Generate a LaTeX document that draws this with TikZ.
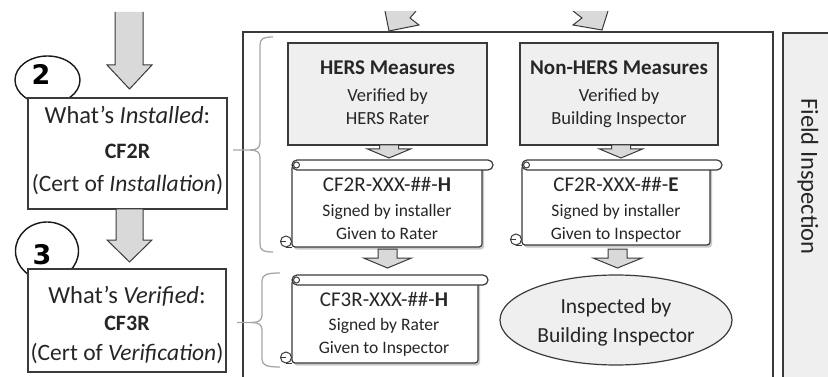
\documentclass[tikz,border=0pt]{standalone}
\usepackage{fontspec}
\setmainfont{Carlito}
\newfontfamily\numfont{DejaVu Sans}
\usetikzlibrary{shadows,shapes.geometric}
\definecolor{dk}{HTML}{3A3A3A}
\definecolor{lg}{HTML}{EFEFEF}
\definecolor{ag}{HTML}{D9D9D9}
\definecolor{br}{HTML}{A6A6A6}
\newcommand{\fsz}[1]{\fontsize{#1}{#1}\selectfont}
% block arrow: cx, ytop, half shaft, half head, ybase, ytip
\newcommand{\blkarrow}[6]{%
  \filldraw[blk] (#1-#3,#2) -- (#1-#3,#5) -- (#1-#4,#5) -- (#1,#6) -- (#1+#4,#5) -- (#1+#3,#5) -- (#1+#3,#2) -- cycle;}
% scroll: x0 (body left), y0 (bar top), x1 (bar right), xb (body right), y1 (bottom)
\newcommand{\scrollshape}[5]{%
  \draw[box, rounded corners=3pt, drop shadow={shadow xshift=2pt, shadow yshift=-2.5pt, opacity=.35, fill=black!60}] (#1,#2+5) -- (#1,#5) -- (#4,#5) -- (#4,#2+5) -- cycle;
  \draw[box, rounded corners=5pt] (#1,#2) rectangle (#3,#2+10);
  \draw[dk, line width=1pt] (#1+4.5,#2+5) circle (3);
  \draw[box, line width=1pt] (#1-6,#5-5.5) circle (5.5);
  \draw[dk, line width=1pt] (#1-11.5,#5-5.5) -- (#1-6,#5-5.5) (#1-6,#5) -- (#1,#5);}
\begin{document}
\begin{tikzpicture}[x=1pt,y=-1pt,
  box/.style={draw=dk, line width=1.2pt, fill=white},
  gbox/.style={draw=dk, line width=1.2pt, fill=lg},
  blk/.style={draw=dk, line width=1pt, fill=ag, line join=miter},
  brc/.style={draw=br, line width=1.3pt},
  txt/.style={anchor=base, inner sep=0pt, text=black!85},
  num/.style={inner sep=0pt, font=\numfont\bfseries\fsz{27}},
  circ/.style={draw=black!90, line width=1.4pt, fill=white, ellipse},
]
\useasboundingbox (0,0) rectangle (828,377);

% ---------- left column ----------
\fill[ag] (115,12) -- (115,65) -- (107,65) -- (129.5,89) -- (152,65) -- (143,65) -- (143,12) -- cycle;
\draw[dk, line width=1pt] (115,12) -- (115,65) -- (107,65) -- (129.5,89) -- (152,65) -- (143,65) -- (143,12);

\node[circ, minimum width=65pt, minimum height=48pt] (c2) at (47.5,80) {};
\node[box, minimum width=199pt, minimum height=111pt] (b2) at (127.5,153.5) {};
\node[num] (n2) at (41,74) {2};
\node[txt] (t2a) at (127.5,124) {\fsz{24.5}What’s \textit{Installed}:};
\node[txt] (t2b) at (127.5,159) {\fsz{22}\bfseries CF2R};
\node[txt] (t2c) at (127.5,192) {\fsz{23.5}(Cert of \textit{Installation})};

\blkarrow{129.5}{209}{13.5}{22.5}{240}{262}

\node[circ, minimum width=63pt, minimum height=58pt] (c3) at (47,251) {};
\node[box, minimum width=198pt, minimum height=103pt] (b3) at (127,320.5) {};
\node[num] (n3) at (42,255) {3};
\node[txt] (t3a) at (127,303) {\fsz{24.5}What’s \textit{Verified}:};
\node[txt] (t3b) at (127,330) {\fsz{22}\bfseries CF3R};
\node[txt] (t3c) at (127,360) {\fsz{23.5}(Cert of \textit{Verification})};

% ---------- main frame ----------
\draw[dk, line width=1.3pt] (243,377) -- (243,32) -- (773,32) -- (773,377);
\fill[lg] (783,33) rectangle (830,377);
\draw[dk, line width=1.3pt] (783,377) -- (783,33) -- (830,33);
\node[rotate=-90, text=black!85] (fi) at (808,176.5) {\fsz{24.5}Field Inspection};

% cut arrow heads at top
\filldraw[blk] (385,11) -- (389,31) -- (419,25) -- (410,18) -- (416,11);
\filldraw[blk] (573,11) -- (582,18) -- (573,25) -- (602,30) -- (608,11);
\fill[white] (370,0) rectangle (620,11);

% braces
\draw[brc] (273,37) .. controls (263,37) and (260,39) .. (260,45) -- (260,142) .. controls (260,148) and (257,150) .. (250,150) -- (233,150);
\draw[brc] (250,150) .. controls (257,150) and (260,152) .. (260,158) -- (260,244) .. controls (260,250) and (263,252) .. (273,252);
\draw[brc] (280,273) .. controls (266,273) and (262,275) .. (262,281) -- (262,315) .. controls (262,320) and (259,322.5) .. (252,322.5) -- (237,322.5);
\draw[brc] (252,322.5) .. controls (259,322.5) and (262,325) .. (262,330) -- (262,359) .. controls (262,365) and (266,367) .. (280,367);

% HERS / Non-HERS boxes
\node[gbox, minimum width=199pt, minimum height=102pt] (hers) at (387.5,94) {};
\node[txt] at (387.5,75) {\fsz{21}\bfseries HERS Measures};
\node[txt] at (387.5,102) {\fsz{18.5}Verified by};
\node[txt] at (387.5,125) {\fsz{18.5}HERS Rater};

\node[gbox, minimum width=198pt, minimum height=102pt] (nhers) at (619,94) {};
\node[txt] at (619,75) {\fsz{21}\bfseries Non-HERS Measures};
\node[txt] at (619,102) {\fsz{18.5}Verified by};
\node[txt] at (619,125) {\fsz{18.5}Building Inspector};

\blkarrow{389}{145}{9.5}{21.5}{149}{158}
\blkarrow{621}{145}{9.5}{21.5}{149}{158}

% scrolls
\scrollshape{292}{160}{493}{482}{247}
\node[txt] at (387,192) {\fsz{21}CF2R-XXX-\#\#-\textbf{H}};
\node[txt] at (387,217) {\fsz{17.5}Signed by installer};
\node[txt] at (387,240) {\fsz{17.5}Given to Rater};

\scrollshape{522}{160}{722}{710}{245}
\node[txt] at (616,192) {\fsz{21}CF2R-XXX-\#\#-\textbf{E}};
\node[txt] at (616,217) {\fsz{17.5}Signed by installer};
\node[txt] at (616,240) {\fsz{17.5}Given to Inspector};

\blkarrow{387.5}{249}{9.5}{24}{258}{268}
\blkarrow{617.5}{249}{9.5}{24.5}{258}{268}

\scrollshape{292}{275}{488}{478}{363}
\node[txt] at (384,306) {\fsz{21}CF3R-XXX-\#\#-\textbf{H}};
\node[txt] at (384,330) {\fsz{17.5}Signed by Rater};
\node[txt] at (384,353) {\fsz{17.5}Given to Inspector};

\node[draw=dk, line width=1.2pt, fill=lg, ellipse, minimum width=232pt, minimum height=90pt] (insp) at (616,320) {};
\node[txt] at (616,313) {\fsz{21.5}Inspected by};
\node[txt] at (616,342) {\fsz{21.5}Building Inspector};
\end{tikzpicture}
\end{document}
